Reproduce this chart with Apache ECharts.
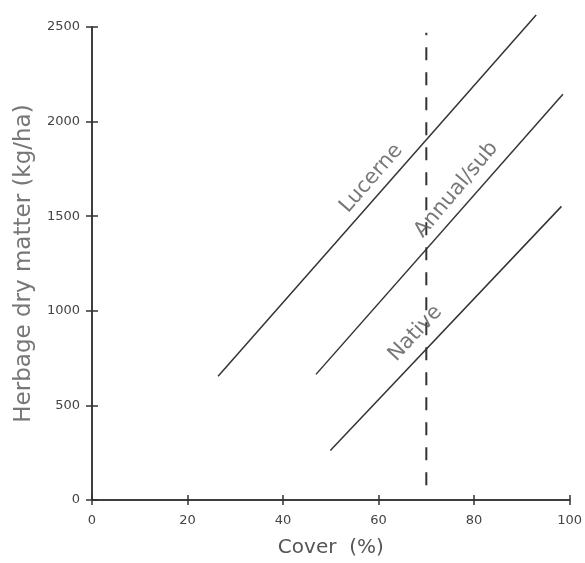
<!DOCTYPE html>
<html><head><meta charset="utf-8">
<script src="https://cdn.jsdelivr.net/npm/echarts@6/dist/echarts.min.js"></script>
<style>html,body{margin:0;padding:0;background:#fff}#c{width:585px;height:563px}</style>
</head><body><div id="c"></div>
<script>
const xTicks = [0, 20, 40, 60, 80, 100];
const yTicks = [0, 500, 1000, 1500, 2000, 2500];
const lucerne = [[26.4, 654], [93.0, 2563]];
const annualSub = [[46.9, 664], [98.6, 2144]];
const native = [[49.9, 262], [98.3, 1552]];
const threshold = [[70, 78], [70, 2470]];
const lineLabels = [
  {name: 'Lucerne', value: [58.5, 1700], rotate: 49},
  {name: 'Annual/sub', value: [76.3, 1640], rotate: 50},
  {name: 'Native', value: [67.7, 880], rotate: 47}
];

const chart = echarts.init(document.getElementById('c'));
const ink = '#333';
const txt = '#555';
const common = {
  type: 'value', min: 0, splitLine: {show: false},
  axisLine: {show: true, lineStyle: {color: ink, width: 1.5}}
};
function lineSeries(name, data) {
  return {name, type: 'line', data, symbol: 'none', clip: false,
    lineStyle: {color: ink, width: 1.5}, silent: true, z: 3};
}
chart.setOption({
  animation: false,
  grid: {left: 92, top: 27, right: 15, bottom: 58, containLabel: false},
  xAxis: [
    Object.assign({}, common, {max: 100, interval: 20,
      axisTick: {show: true, length: 5, lineStyle: {color: ink, width: 1.5}},
      axisLabel: {color: '#444', fontSize: 13, fontFamily: 'DejaVu Sans', margin: 14,
        formatter: v => xTicks.includes(v) ? String(v) : ''},
      name: 'Cover  (%)', nameLocation: 'middle', nameGap: 38,
      nameTextStyle: {color: txt, fontSize: 20, fontFamily: 'DejaVu Sans'}}),
    Object.assign({}, common, {max: 100, interval: 20, position: 'bottom',
      axisTick: {show: true, inside: true, length: 5, lineStyle: {color: ink, width: 1.5}},
      axisLabel: {show: false}})
  ],
  yAxis: [
    Object.assign({}, common, {max: 2500, interval: 500,
      axisTick: {show: true, length: 6, lineStyle: {color: ink, width: 1.5}},
      axisLabel: {color: '#444', fontSize: 13, fontFamily: 'DejaVu Sans', margin: 12,
        formatter: v => yTicks.includes(v) ? String(v) : ''},
      name: 'Herbage dry matter (kg/ha)', nameLocation: 'middle', nameGap: 56, nameRotate: 90,
      nameTextStyle: {color: '#777', fontSize: 23, fontFamily: 'DejaVu Sans'}}),
    Object.assign({}, common, {max: 2500, interval: 500, position: 'left',
      axisTick: {show: true, inside: true, length: 6, lineStyle: {color: ink, width: 1.5}},
      axisLabel: {show: false}})
  ],
  series: [
    lineSeries('Lucerne', lucerne),
    lineSeries('Annual/sub', annualSub),
    lineSeries('Native', native),
    {name: 'threshold', type: 'line', data: threshold, symbol: 'none', silent: true,
      lineStyle: {color: ink, width: 2, type: [13, 12]}},
    {name: 'labels', type: 'scatter', symbolSize: 0, silent: true, z: 5,
      data: lineLabels.map(d => ({name: d.name, value: d.value,
        label: {show: true, position: 'inside', formatter: '{b}', rotate: d.rotate,
          color: txt, fontSize: 21, fontFamily: 'DejaVu Sans'}}))}
  ]
});
</script></body></html>
